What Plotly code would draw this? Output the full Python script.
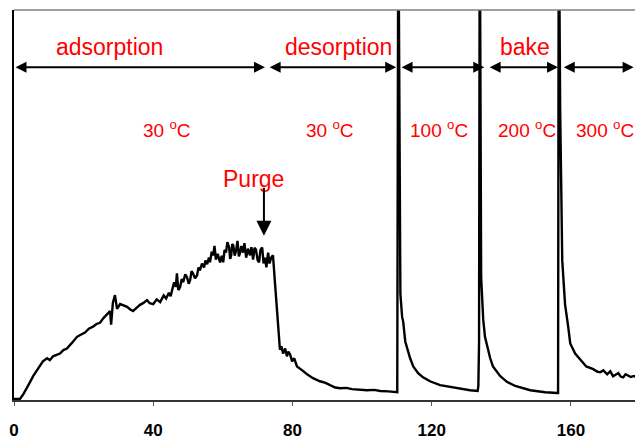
import plotly.graph_objects as go

# Signal trace (time vs arbitrary signal, 0-100 = full plot height)
time = [0, 1.7, 2.7, 3.7, 4.6, 5.5, 6.9, 8.3, 9.5, 10.3, 11.2, 12.2, 13.2, 14.2, 15.2, 16.7, 18.1,
        19.3, 20.4, 21.5, 22.7, 23.7, 24.7, 25.7, 26.7,
        27.6, 27.9, 28.4, 29.0, 29.6, 30.5, 31.5, 32.5, 33.4, 34.2, 35.2, 36.2, 37.2, 38.2, 39.0,
        40.0, 41.0, 42.0, 43.0, 43.7, 44.5, 45.0, 45.6, 46.0, 46.5, 46.8, 47.2, 47.7, 48.2, 48.6,
        49.2, 49.7, 50.2, 50.6, 51.0, 51.4, 52.0, 52.6, 53.0, 53.4, 54.0, 54.6, 55.0, 55.5, 56.0,
        56.3, 56.8, 57.2, 57.6, 58.0, 58.5, 59.2, 59.7, 60.1, 60.5, 60.9, 61.3, 61.8, 62.1, 62.4,
        62.7, 63.0, 63.4, 63.8, 64.2, 64.6, 64.9, 65.3, 65.8, 66.2, 66.7, 67.2, 67.8, 68.2, 68.7,
        69.1, 69.5, 70.0, 70.4, 70.8, 71.3, 71.7, 72.1, 72.5, 73.0, 73.4, 73.9, 74.4,
        75.0, 75.6, 75.9, 76.1, 76.4, 76.8, 77.3, 77.9, 78.4, 78.8, 79.3, 79.9, 80.5, 81.3, 82.0,
        82.8, 84.2, 85.9, 87.9, 89.5, 90.8, 92.3, 93.7, 95.5, 97.1, 99.0, 101.4, 103.5, 105.2,
        107.5, 109.5,
        110.1, 110.4, 111.0, 111.5, 111.8, 112.4, 112.9, 113.8, 114.7, 116.1, 117.5, 119.5,
        122.4, 125.3, 128.2, 131.0, 133.2,
        133.4, 133.6, 133.8, 134.2, 134.5, 134.8, 135.3, 135.9, 136.8, 137.6, 139.7, 141.7,
        144.0, 148.3, 152.6, 156.0,
        156.3, 156.5, 156.9, 157.5, 158.0, 158.3, 159.2, 159.8, 161.2, 162.6, 164.4, 166.4,
        167.5, 168.4, 169.3, 170.4, 171.3, 172.1, 172.9, 173.6, 174.3, 175.0, 175.7, 176.4,
        177.2, 177.9, 180.0]
signal = [0.25, 0.25, 1.5, 3.0, 4.6, 6.1, 8.1, 9.9, 10.7, 10.2, 11.2, 11.6, 11.9, 12.8, 13.2, 14.7,
          16.2, 16.8, 17.3, 18.3, 18.8, 19.5, 19.8, 21.0, 22.1,
          22.8, 19.3, 24.9, 26.9, 23.4, 24.6, 24.3, 23.9, 23.2, 22.8, 23.6, 24.4, 24.9, 25.6, 24.8,
          24.6, 25.8, 25.1, 26.8, 26.0, 27.5, 26.6, 28.8, 30.2, 29.0, 32.5, 28.2, 28.9, 31.0, 30.2,
          32.2, 31.5, 29.8, 30.7, 33.0, 32.5, 31.2, 32.0, 34.0, 33.2, 35.0, 34.0, 35.8, 34.8, 36.5,
          35.3, 38.0, 37.1, 39.5, 36.0, 37.5, 35.3, 37.0, 35.3, 38.5, 37.8, 40.5, 39.1, 36.2, 37.1,
          40.0, 39.6, 37.0, 38.3, 40.8, 36.8, 37.6, 39.5, 37.8, 40.2, 36.5, 38.8, 37.1, 39.2, 36.0,
          39.0, 38.6, 35.8, 35.3, 38.5, 39.1, 35.0, 36.5, 34.0, 37.8, 35.0, 36.5, 37.1,
          29.7, 22.6, 18.8, 15.0, 12.9, 13.8, 11.9, 13.2, 11.2, 12.4, 11.7, 9.9, 10.7, 8.6, 8.2,
          7.6, 6.6, 5.6, 4.8, 4.4, 3.8, 3.2, 3.0, 3.1, 2.8, 2.7, 2.5, 2.6, 2.3,
          2.2, 2.0,
          2.0, 130, 27.2, 21.3, 20.1, 15.0, 13.2, 10.7, 8.6, 6.9, 5.8, 4.8,
          3.8, 3.3, 2.8, 2.5, 2.3,
          3.6, 15.0, 130, 31.5, 26.4, 20.6, 16.2, 13.7, 10.7, 8.6, 6.1, 4.6,
          3.6, 2.5, 2.0, 1.8,
          1.8, 130, 74.6, 35.8, 26.4, 24.6, 18.8, 14.5, 11.9, 10.4, 8.6, 7.9,
          7.3, 7.1, 7.6, 6.6, 7.4, 6.1, 6.5, 6.9, 6.0, 5.8, 6.6, 6.3, 5.9, 6.1, 6.1]

# Stage brackets (start, end) and labels
stage_bounds = [(0, 72.1), (73.0, 109.8), (110.9, 135.1), (136.2, 156.3), (157.5, 178.0)]
phase_labels = ["adsorption", "desorption", "bake"]
phase_x = [27.3, 93.1, 146.8]
temp_labels = ["30 <sup>o</sup>C", "30 <sup>o</sup>C", "100 <sup>o</sup>C", "200 <sup>o</sup>C", "300 <sup>o</sup>C"]
temp_x = [44.0, 90.8, 122.1, 147.4, 169.8]
x_ticks = [0, 40, 80, 120, 160]

FONT = "Liberation Sans, Arial, sans-serif"
RED = "#FF0000"

fig = go.Figure()
fig.add_trace(go.Scatter(x=time, y=signal, mode="lines",
                         line=dict(color="black", width=2.4), showlegend=False,
                         hoverinfo="skip"))

ann = []
arrow_y = 85.3
for (a, b) in stage_bounds:
    ann.append(dict(x=b, y=arrow_y, ax=a, ay=arrow_y, xref="x", yref="y", axref="x", ayref="y",
                    text="", showarrow=True, arrowhead=2, arrowside="end+start",
                    arrowsize=1.1, arrowwidth=2, arrowcolor="black",
                    standoff=0, startstandoff=0))
for lbl, xv in zip(phase_labels, phase_x):
    ann.append(dict(x=xv, y=90.5, xref="x", yref="y", text=lbl, showarrow=False,
                    font=dict(family=FONT, size=23, color=RED)))
for lbl, xv in zip(temp_labels, temp_x):
    ann.append(dict(x=xv, y=69.5, xref="x", yref="y", text=lbl, showarrow=False,
                    font=dict(family=FONT, size=19, color=RED)))
# Purge label and arrow
ann.append(dict(x=68.7, y=56.6, xref="x", yref="y", text="Purge", showarrow=False,
                font=dict(family=FONT, size=23, color=RED)))
ann.append(dict(x=71.8, y=42.1, ax=71.8, ay=54.8, xref="x", yref="y", axref="x", ayref="y",
                text="", showarrow=True, arrowhead=2, arrowsize=1.5, arrowwidth=2,
                arrowcolor="black", standoff=0))

fig.update_layout(
    width=635, height=440,
    margin=dict(l=14, r=0, t=10, b=36),
    paper_bgcolor="white", plot_bgcolor="white",
    annotations=ann,
    shapes=[dict(type="line", xref="paper", yref="paper", x0=0, x1=1, y0=1, y1=1,
                 line=dict(color="#808080", width=1.5))],
    xaxis=dict(range=[0, 178.4], tickvals=x_ticks, ticktext=[str(t) for t in x_ticks],
               showgrid=False, zeroline=False, showline=True, linecolor="#333333", linewidth=1.5,
               ticks="outside", ticklen=4, tickwidth=1, tickcolor="#555555",
               ticklabelstandoff=10,
               tickfont=dict(family=FONT, size=17, color="black", weight="bold")),
    yaxis=dict(range=[0, 100], showgrid=False, zeroline=False, showline=True,
               linecolor="black", linewidth=1.5, showticklabels=False, ticks=""),
)

fig.write_html("out.html", config={"displayModeBar": False},
               post_script="document.body.style.margin='0px';document.body.style.overflow='hidden';")
